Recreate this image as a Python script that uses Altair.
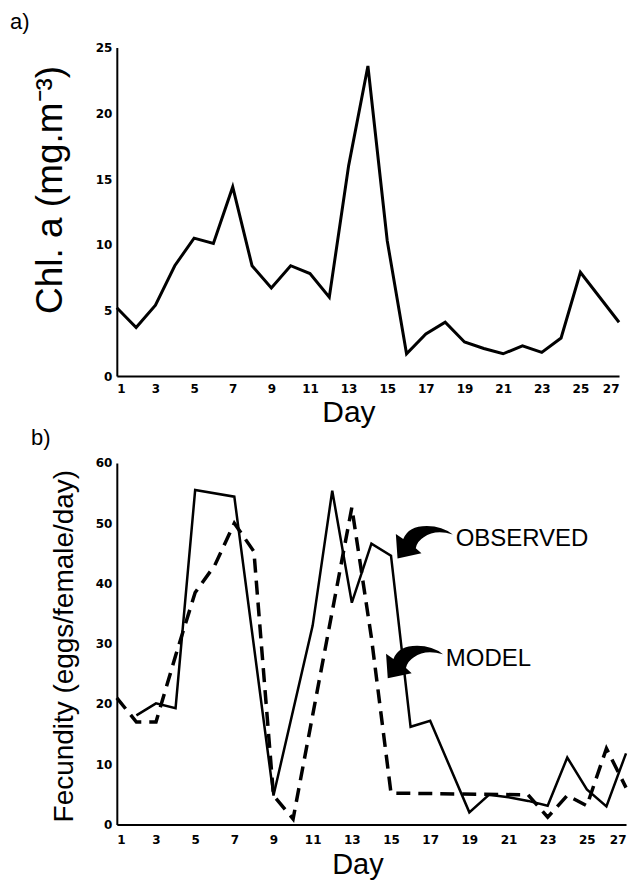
import altair as alt
import pandas as pd

# ---- panel a) chlorophyll a ----
chl_days = [1, 2, 3, 4, 5, 6, 7, 8, 9, 10, 11, 12, 13, 14, 15, 16, 17, 18, 19, 20, 21, 22, 23, 24, 25, 27]
chl_vals = [5.2, 3.7, 5.4, 8.4, 10.5, 10.1, 14.4, 8.4, 6.7, 8.4, 7.8, 6.0, 16.0, 23.6, 10.3,
            1.7, 3.2, 4.1, 2.6, 2.1, 1.7, 2.3, 1.8, 2.9, 7.9, 4.1]

# ---- panel b) fecundity ----
obs_days = [2, 3, 4, 5, 7, 9, 11, 12, 13, 14, 15, 16, 17, 19, 20, 21, 22, 23, 24, 25, 26, 27]
obs_vals = [18.1, 20.1, 19.3, 55.5, 54.4, 4.8, 33.0, 55.4, 36.8, 46.6, 44.6, 16.2, 17.2,
            2.0, 4.9, 4.5, 3.9, 3.1, 11.1, 5.8, 3.0, 11.8]
model_days = [1, 2, 3, 4, 5, 6, 7, 8, 9, 10, 13, 14, 15, 22, 23, 24, 25, 26, 27]
model_vals = [21.0, 17.0, 17.0, 28.0, 38.5, 43.0, 50.0, 45.3, 4.8, 0.9, 52.6, 31.0, 5.2,
              4.9, 1.2, 4.8, 3.1, 12.6, 6.1]

x_ticks = list(range(1, 28, 2))
chl_ticks = [0, 5, 10, 15, 20, 25]
fec_ticks = [0, 10, 20, 30, 40, 50, 60]

annot_text = ["OBSERVED", "MODEL"]
annot_day = [18.3, 17.8]
annot_val = [47.3, 27.4]
arrow_day = [16.7, 16.2]
arrow_val = [46.9, 27.0]

# curved filled arrow, drawn in a [-1, 1] box, pointing down-left
ARROW = ("M -0.94 0.58 L -1 -0.28 L -0.74 -0.1 "
         "Q -0.56 -0.56 0.09 -0.56 Q 0.64 -0.56 1 -0.26 "
         "Q 0.38 -0.45 -0.02 -0.16 Q -0.25 -0.02 -0.3 0.22 "
         "L -0.1 0.4 Z")

df_a = pd.DataFrame({"day": chl_days, "chl": chl_vals})
df_obs = pd.DataFrame({"day": obs_days, "fec": obs_vals})
df_mod = pd.DataFrame({"day": model_days, "fec": model_vals})
df_txt = pd.DataFrame({"day": annot_day, "fec": annot_val, "label": annot_text})
df_arr = pd.DataFrame({"day": arrow_day, "fec": arrow_val})

xscale = alt.Scale(domain=[1, 27], nice=False, zero=False)

# ---- top chart ----
top = alt.Chart(df_a).mark_line(color="black", strokeWidth=3, strokeJoin="miter").encode(
    x=alt.X("day:Q", scale=xscale,
            axis=alt.Axis(values=x_ticks, title="Day", titleFontSize=30,
                          titleX=232, titleY=45, titleBaseline="alphabetic",
                          labelPadding=7)),
    y=alt.Y("chl:Q", scale=alt.Scale(domain=[0, 25], nice=False),
            axis=alt.Axis(values=chl_ticks, title="Chl. a  (mg.m⁻³)", titleFontSize=37,
                          titleX=-47, titleY=142, labelPadding=5)),
).properties(
    width=503, height=329,
    title=alt.Title("a)", anchor="start", frame="bounds", fontSize=22,
                    fontWeight="normal", font="Liberation Sans", dx=-22, offset=8),
)

# ---- bottom chart ----
xb = alt.X("day:Q", scale=xscale,
           axis=alt.Axis(values=x_ticks, title="Day", titleFontSize=29,
                         titleX=241, titleY=49, titleBaseline="alphabetic",
                         labelPadding=10))
yb = alt.Y("fec:Q", scale=alt.Scale(domain=[0, 60], nice=False),
           axis=alt.Axis(values=fec_ticks, title="Fecundity  (eggs/female/day)",
                         titleFontSize=28, titleX=-38, titleY=183, labelPadding=5))

obs_line = alt.Chart(df_obs).mark_line(color="black", strokeWidth=2.5, strokeJoin="miter").encode(x=xb, y=yb)
mod_line = alt.Chart(df_mod).mark_line(color="black", strokeWidth=3.5, strokeDash=[14, 8]).encode(x=xb, y=yb)
arrows = alt.Chart(df_arr).mark_point(shape=ARROW, filled=True, size=3250, color="black",
                                      opacity=1, strokeWidth=0).encode(x=xb, y=yb)
labels = alt.Chart(df_txt).mark_text(align="left", baseline="middle", fontSize=24,
                                     font="Liberation Sans", color="black").encode(
    x=xb, y=yb, text="label:N")

bottom = alt.layer(obs_line, mod_line, arrows, labels).properties(
    width=510, height=362,
    title=alt.Title("b)", anchor="start", frame="bounds", fontSize=22,
                    fontWeight="normal", font="Liberation Sans", dx=-20, offset=7),
)

chart = alt.vconcat(top, bottom, spacing=0).configure(
    padding={"left": 9, "top": 10, "right": 5, "bottom": 0},
    background="white",
).configure_view(stroke=None).configure_axis(
    domainColor="black", domainWidth=2, ticks=False, tickSize=0, grid=False,
    labelFont="DejaVu Sans", labelFontWeight="bold", labelFontSize=12, labelColor="black",
    titleFont="Liberation Sans", titleFontWeight="normal", titleColor="black",
)

chart.save("out.html", embed_options={"renderer": "svg", "actions": False})
